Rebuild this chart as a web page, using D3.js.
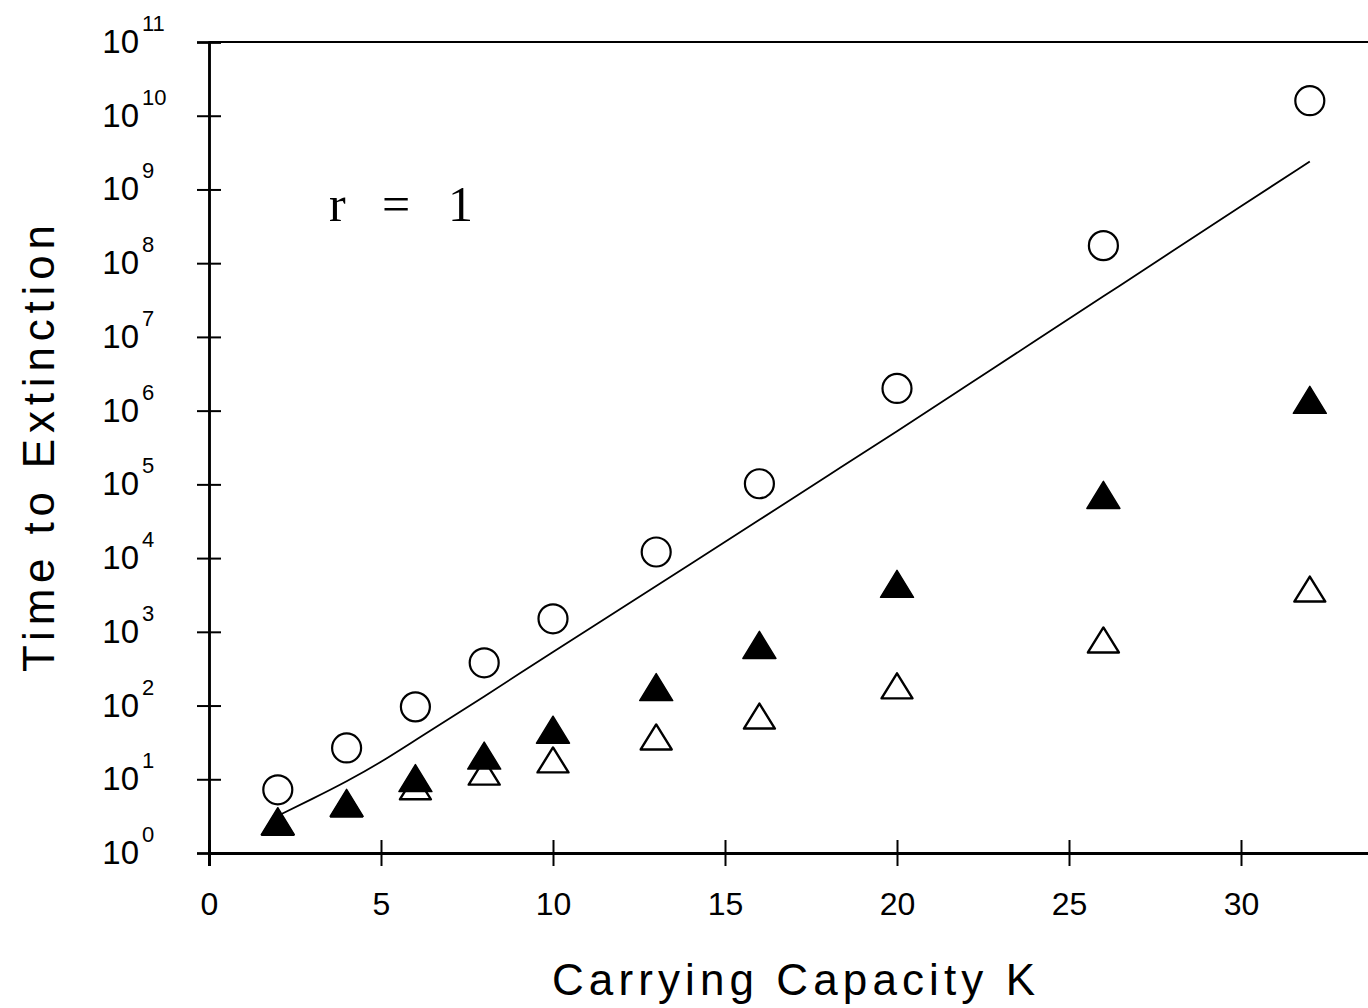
<!DOCTYPE html>
<meta charset="utf-8">
<style>
body {
  margin: 0;
  background: #fff;
  font-family: "Liberation Sans", Helvetica, sans-serif;
}

.axis path, .axis line {
  stroke: #000;
}

.axis text {
  font-size: 32px;
  fill: #000;
}
</style>
<body>
<script src="https://cdn.jsdelivr.net/npm/d3@7"></script>
<script>

var width = 1368,
    height = 1008;

// carrying capacity values
var capacity = [2, 4, 6, 8, 10, 13, 16, 20, 26, 32];

// mean time to extinction for the three runs
var circles = [7.2, 26.6, 96, 380, 1500, 12100, 1.02e5, 2.0e6, 1.73e8, 1.6e10];
var filledTri = [2.7, 4.8, 10.4, 21, 47, 178, 665, 4470, 7.2e4, 1.4e6];
var openTri = [2.6, 4.6, 7.9, 12.5, 18.3, 37.5, 72, 185, 775, 3800];

// approximation curve
var curveK = [2, 3, 4, 5, 6, 8, 10, 12, 14, 16, 18, 20, 22, 24, 26, 28, 30, 32];
var curveT = [3.2, 5.4, 9.3, 17, 34, 132, 537, 2090, 8300, 3.3e4, 1.32e5, 5.25e5,
              2.14e6, 8.7e6, 3.55e7, 1.45e8, 5.9e8, 2.4e9];

var xTicks = [0, 5, 10, 15, 20, 25, 30];
var yPowers = d3.range(0, 12);

var x = d3.scaleLinear()
    .domain([0, 35])
    .range([209, 209 + 35 * 34.4]);

var y = d3.scaleLog()
    .domain([1, 1e11])
    .range([853, 42]);

var svg = d3.select("body").append("svg")
    .attr("width", width)
    .attr("height", height);

// frame top
svg.append("line")
    .attr("x1", x(0)).attr("x2", x(35))
    .attr("y1", y(1e11)).attr("y2", y(1e11))
    .attr("stroke", "#000")
    .attr("stroke-width", 2);

// y axis, ticks crossing the line
var yVals = yPowers.map(function(p) { return Math.pow(10, p); });
[d3.axisLeft(y), d3.axisRight(y)].forEach(function(ax) {
  svg.append("g")
      .attr("class", "axis")
      .attr("transform", "translate(" + x(0) + ",0)")
      .call(ax.tickValues(yVals).tickSize(12).tickFormat(""))
      .call(function(g) {
        g.select(".domain").attr("stroke-width", 2.5);
        g.selectAll(".tick line").attr("stroke-width", 2);
      });
});

// y tick labels: 10 with exponent
var yLab = svg.append("g");
yLab.selectAll(".base")
    .data(yPowers)
  .enter().append("text")
    .attr("x", 139)
    .attr("y", function(d) { return y(Math.pow(10, d)) + 11; })
    .attr("text-anchor", "end")
    .style("font-size", "33px")
    .text("10");
yLab.selectAll(".exp")
    .data(yPowers)
  .enter().append("text")
    .attr("x", 142)
    .attr("y", function(d) { return y(Math.pow(10, d)) - 11; })
    .style("font-size", "22px")
    .text(function(d) { return d; });

// x axis
[d3.axisBottom(x), d3.axisTop(x)].forEach(function(ax, i) {
  svg.append("g")
      .attr("class", "axis")
      .attr("transform", "translate(0," + y(1) + ")")
      .call(ax.tickValues(xTicks).tickSize(13).tickPadding(26)
        .tickFormat(i === 0 ? d3.format("d") : ""))
      .call(function(g) {
        g.select(".domain").attr("stroke-width", 3);
        g.selectAll(".tick line").attr("stroke-width", 2);
      });
});

// axis titles
svg.append("text")
    .attr("x", 552)
    .attr("y", 995)
    .attr("textLength", 483)
    .style("font-size", "44px")
    .text("Carrying Capacity K");

svg.append("text")
    .attr("transform", "translate(54,672) rotate(-90)")
    .attr("textLength", 447)
    .style("font-size", "44px")
    .text("Time to Extinction");

// r = 1 annotation
var ann = svg.append("text")
    .attr("y", 221)
    .style("font-family", "'Liberation Serif', serif")
    .style("font-size", "50px");
ann.append("tspan").attr("x", 329).text("r");
ann.append("tspan").attr("x", 382).text("=");
ann.append("tspan").attr("x", 448).text("1");

// curve
var line = d3.line()
    .x(function(d, i) { return x(curveK[i]); })
    .y(function(d) { return y(d); })
    .curve(d3.curveBasis);

svg.append("path")
    .datum(curveT)
    .attr("d", line)
    .attr("fill", "none")
    .attr("stroke", "#000")
    .attr("stroke-width", 1.8);

// triangle centred on its vertical middle
function tri(w, h) {
  return "M0," + (-h / 2) + "L" + (w / 2) + "," + (h / 2) + "L" + (-w / 2) + "," + (h / 2) + "Z";
}

svg.selectAll(".open")
    .data(openTri)
  .enter().append("path")
    .attr("class", "open")
    .attr("d", tri(31, 25))
    .attr("transform", function(d, i) { return "translate(" + x(capacity[i]) + "," + y(d) + ")"; })
    .attr("fill", "#fff")
    .attr("stroke", "#000")
    .attr("stroke-width", 2.4)
    .attr("stroke-linejoin", "round");

svg.selectAll(".filled")
    .data(filledTri)
  .enter().append("path")
    .attr("class", "filled")
    .attr("d", tri(33, 27))
    .attr("transform", function(d, i) { return "translate(" + x(capacity[i]) + "," + y(d) + ")"; })
    .attr("fill", "#000")
    .attr("stroke", "#000")
    .attr("stroke-width", 1.5)
    .attr("stroke-linejoin", "round");

svg.selectAll(".circ")
    .data(circles)
  .enter().append("circle")
    .attr("class", "circ")
    .attr("cx", function(d, i) { return x(capacity[i]); })
    .attr("cy", function(d) { return y(d); })
    .attr("r", 14.5)
    .attr("fill", "none")
    .attr("stroke", "#000")
    .attr("stroke-width", 2.2);

</script>
